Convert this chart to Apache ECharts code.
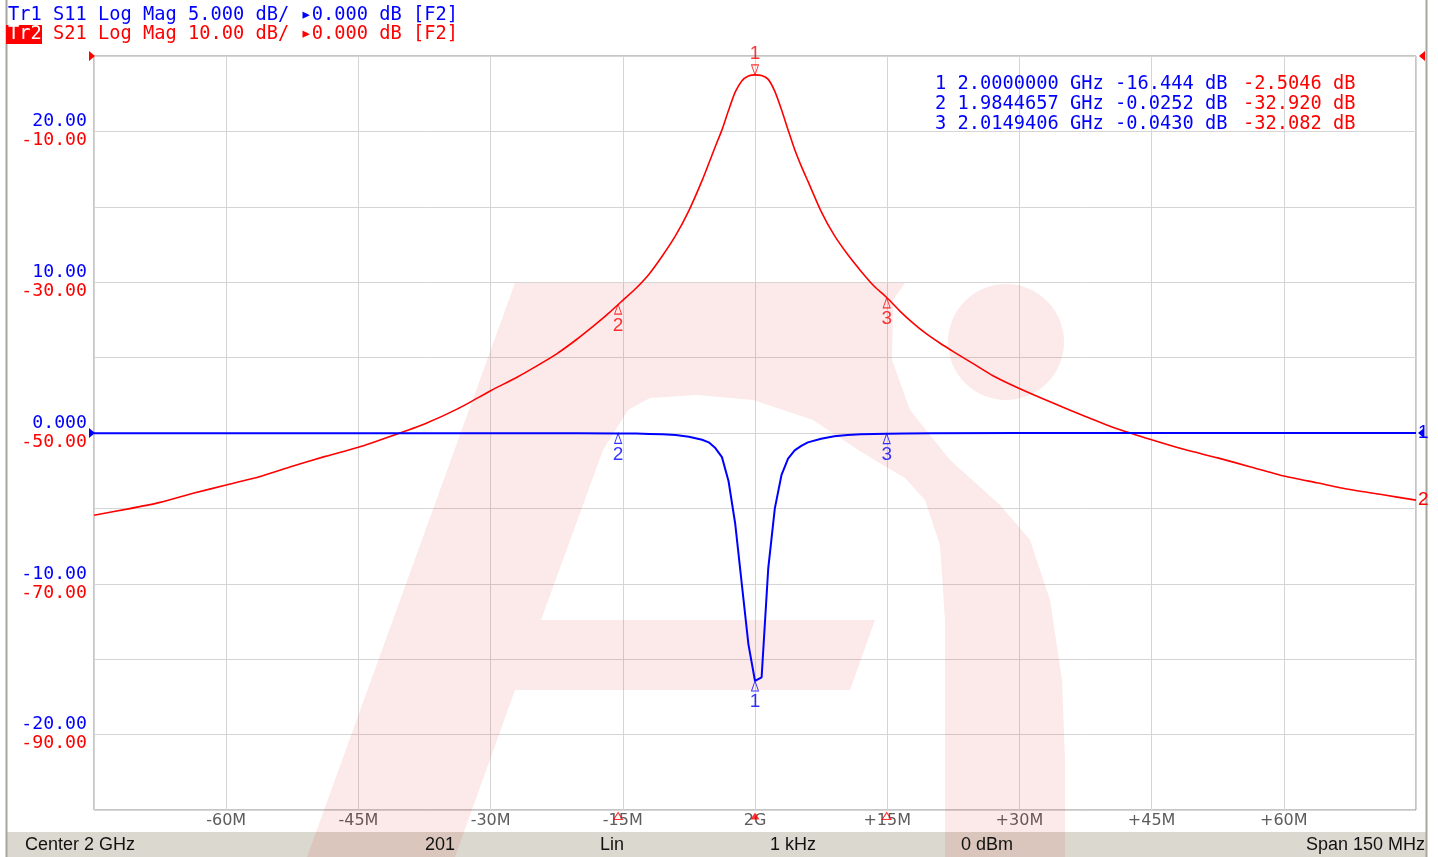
<!DOCTYPE html>
<html><head><meta charset="utf-8">
<script src="https://cdn.jsdelivr.net/npm/echarts@6/dist/echarts.min.js"></script>
<style>html,body{margin:0;padding:0;background:#fff}#c{width:1438px;height:857px}</style>
</head><body><div id="c"></div>
<script>
// Frequency offsets from 2 GHz centre, in MHz
const s21Freq = [-75,-71.25,-67.5,-63.75,-60,-56.25,-52.5,-48.75,-45,-41.25,-37.5,-33.75,-30,-27,-24.75,-22.5,-20.25,-18,-16.5,-15,-13.5,-12,-10.5,-9,-7.5,-6,-4.5,-3.75,-3,-2.25,-1.5,-0.75,0,0.75,1.5,2.25,3,3.75,4.5,5.25,6,7.5,9,10.5,12,13.5,15,16.5,18,19.5,21,22.5,24.75,27,30,33.75,37.5,41.25,45,48.75,52.5,56.25,60,63.75,67.5,71.25,75];
const s21Val = [-60.9,-60.1,-59.2,-58.0,-56.9,-55.8,-54.4,-53.1,-51.9,-50.4,-48.8,-46.8,-44.4,-42.6,-41.1,-39.5,-37.6,-35.5,-34.0,-32.4,-30.8,-28.9,-26.5,-23.8,-20.5,-16.5,-12.0,-9.8,-7.2,-4.8,-3.3,-2.65,-2.50,-2.6,-3.1,-4.7,-7.1,-9.8,-12.4,-14.6,-16.6,-20.6,-23.8,-26.3,-28.5,-30.5,-32.1,-33.9,-35.5,-36.9,-38.1,-39.2,-40.8,-42.4,-44.1,-46.0,-47.8,-49.5,-50.9,-52.2,-53.3,-54.5,-55.7,-56.6,-57.5,-58.2,-58.9];
const s11Freq = [-75,-60,-45,-30,-20,-15.5,-13.5,-12,-10.5,-9,-7.5,-6,-5.25,-4.5,-3.75,-3,-2.25,-1.5,-0.75,0,0.75,1.5,2.25,3,3.75,4.5,5.25,6,7.5,9,10.5,12,13.5,15,17,20,30,45,60,75];
const s11Val = [-0.01,-0.01,-0.01,-0.02,-0.02,-0.025,-0.04,-0.06,-0.09,-0.14,-0.25,-0.45,-0.62,-1.0,-1.6,-3.2,-6.0,-10.0,-14.0,-16.444,-16.2,-9.0,-5.0,-2.8,-1.7,-1.15,-0.85,-0.62,-0.38,-0.22,-0.13,-0.08,-0.06,-0.043,-0.03,-0.01,0,0,0,0];

const markerNames = ['1','2','3'];
const markerFreq = [0, -15.5343, 14.9406];
const markerFreqText = ['2.0000000','1.9844657','2.0149406'];
const markerS11 = [-16.444, -0.0252, -0.0430];
const markerS21 = [-2.5046, -32.920, -32.082];

const xTickLabels = ['', '-60M', '-45M', '-30M', '-15M', '2G', '+15M', '+30M', '+45M', '+60M', ''];
const s11TickLabels = ['', '-20.00', '', '-10.00', '', '0.000', '', '10.00', '', '20.00', ''];
const s21TickLabels = ['', '-90.00', '', '-70.00', '', '-50.00', '', '-30.00', '', '-10.00', ''];

const headerLine1 = 'Tr1 S11 Log Mag 5.000 dB/ \u25B80.000 dB [F2]';
const headerLine2 = 'Tr2 S21 Log Mag 10.00 dB/ \u25B80.000 dB [F2]';
const statusTexts = ['Center 2 GHz', '201', 'Lin', '1 kHz', '0 dBm', 'Span 150 MHz'];

const BLUE = '#0000ff', RED = '#ff0000';
const MONO = '"DejaVu Sans Mono", monospace';
const SANS = '"Liberation Sans", "DejaVu Sans", sans-serif';
const HFS = 18.7;

const zip = (a, b) => a.map((v, i) => [v, b[i]]);
const fmt = v => (Math.abs(v) >= 10 ? v.toFixed(3) : v.toFixed(4));

const chart = echarts.init(document.getElementById('c'), null, {renderer: 'canvas'});

const markerScatter = (vals, axis, color, idx, active) => ({
  type: 'scatter', yAxisIndex: axis, clip: false, z: 5,
  data: idx.map(i => ({name: markerNames[i], value: [markerFreq[i], vals[i]]})),
  symbol: 'triangle', symbolSize: [7, 10],
  symbolRotate: active ? 180 : 0,
  symbolOffset: active ? [0, -5] : [0, 5],
  itemStyle: {color: 'rgba(255,255,255,0)', borderColor: color, borderWidth: 1},
  label: {show: true, position: active ? 'top' : 'bottom', distance: 1, formatter: p => p.name,
          color: color, fontFamily: SANS, fontSize: 19},
  emphasis: {disabled: true}, silent: true
});

// watermark (decoration)
const wm = [[307,857],[515,283],[905,283],[893,300],[892,360],[910,410],[950,460],[1000,505],[1030,540],[1050,600],[1062,680],[1065,760],[1065,857],[945,857],[945,620],[940,545],[925,500],[905,478],[863,453],[813,420],[753,400],[697,395],[650,398],[628,410],[603,450],[541,620],[875,620],[850,690],[515,690],[455,857]];

const statusX = [25, 440, 612, 793, 987, 1425];
const statusAlign = ['left','center','center','center','center','right'];

const graphics = [
  {type: 'rect', z: 0, shape: {x: 6, y: 832, width: 1421, height: 25}, style: {fill: '#dbd8cf'}},
  {type: 'polygon', z: 1, silent: true, shape: {points: wm}, style: {fill: 'rgba(230,40,40,0.10)'}},
  {type: 'circle', z: 1, silent: true, shape: {cx: 1006, cy: 342, r: 58}, style: {fill: 'rgba(230,40,40,0.10)'}},
  {type: 'line', z: 3, shape: {x1: 6.5, y1: 0, x2: 6.5, y2: 857}, style: {stroke: '#a8a69e', lineWidth: 2}},
  {type: 'line', z: 3, shape: {x1: 1426.5, y1: 0, x2: 1426.5, y2: 857}, style: {stroke: '#a8a69e', lineWidth: 2}},
  {type: 'text', z: 4, style: {text: headerLine1, x: 8, y: 15, fill: BLUE, fontFamily: MONO, fontSize: HFS, verticalAlign: 'middle'}},
  {type: 'text', z: 4, style: {text: headerLine2, x: 8, y: 34, fill: RED, fontFamily: MONO, fontSize: HFS, verticalAlign: 'middle'}},
  {type: 'rect', z: 5, shape: {x: 6, y: 25, width: 36, height: 19}, style: {fill: RED}},
  {type: 'text', z: 6, style: {text: 'Tr2', x: 8, y: 34, fill: '#fff', fontFamily: MONO, fontSize: HFS, verticalAlign: 'middle'}}
];
markerNames.forEach((n, i) => {
  graphics.push({type: 'text', z: 4, style: {text: n + ' ' + markerFreqText[i] + ' GHz ' + fmt(markerS11[i]) + ' dB', x: 935, y: 84 + 20 * i, fill: BLUE, fontFamily: MONO, fontSize: HFS, verticalAlign: 'middle'}});
  graphics.push({type: 'text', z: 4, style: {text: fmt(markerS21[i]) + ' dB', x: 1243, y: 84 + 20 * i, fill: RED, fontFamily: MONO, fontSize: HFS, verticalAlign: 'middle'}});
});
statusTexts.forEach((t, i) => {
  graphics.push({type: 'text', z: 4, style: {text: t, x: statusX[i], y: 845, fill: '#111', fontFamily: SANS, fontSize: 18, align: statusAlign[i], verticalAlign: 'middle'}});
});

chart.setOption({
  animation: false,
  backgroundColor: '#fff',
  grid: {left: 94, top: 56, width: 1322, height: 754, show: true, borderColor: '#8c8c8c', borderWidth: 1, backgroundColor: 'transparent', containLabel: false},
  xAxis: {
    type: 'value', min: -75, max: 75, interval: 15,
    axisLine: {show: false}, axisTick: {show: false},
    splitLine: {show: true, lineStyle: {color: '#d5d5d5', width: 1}},
    axisLabel: {margin: 3, color: '#5c5c5c', fontFamily: '"DejaVu Sans", sans-serif', fontSize: 16, showMinLabel: true, showMaxLabel: true,
                formatter: (v, i) => xTickLabels[i]}
  },
  yAxis: [
    {type: 'value', min: -25, max: 25, interval: 5, position: 'left',
     axisLine: {show: false}, axisTick: {show: false},
     splitLine: {show: true, lineStyle: {color: '#d5d5d5', width: 1}},
     axisLabel: {margin: 7, color: BLUE, fontFamily: MONO, fontSize: 18.2, verticalAlign: 'bottom', lineHeight: 18, padding: [0,0,1,0],
                 showMinLabel: true, showMaxLabel: true, formatter: (v, i) => s11TickLabels[i]}},
    {type: 'value', min: -100, max: 0, interval: 10, position: 'left', offset: 0,
     axisLine: {show: false}, axisTick: {show: false}, splitLine: {show: false},
     axisLabel: {margin: 7, color: RED, fontFamily: MONO, fontSize: 18.2, verticalAlign: 'top', lineHeight: 18, padding: [0,0,0,0],
                 showMinLabel: true, showMaxLabel: true, formatter: (v, i) => s21TickLabels[i]}}
  ],
  graphic: graphics,
  series: [
    {type: 'line', name: 'S21', yAxisIndex: 1, data: zip(s21Freq, s21Val), showSymbol: false, symbol: 'none', z: 3,
     smooth: 0.2,
     lineStyle: {color: RED, width: 1.6}, itemStyle: {color: RED},
     endLabel: {show: true, formatter: '2', color: RED, fontFamily: SANS, fontSize: 19, distance: 2},
     emphasis: {disabled: true}, silent: true},
    {type: 'line', name: 'S11', yAxisIndex: 0, data: zip(s11Freq, s11Val), showSymbol: false, symbol: 'none', z: 3,
     lineStyle: {color: BLUE, width: 2}, itemStyle: {color: BLUE},
     endLabel: {show: true, formatter: '1', color: BLUE, fontFamily: SANS, fontSize: 19, distance: 2},
     emphasis: {disabled: true}, silent: true},
    markerScatter(markerS21, 1, RED, [0], true),
    markerScatter(markerS21, 1, RED, [1, 2], false),
    markerScatter(markerS11, 0, BLUE, [0, 1, 2], false),
    {type: 'scatter', yAxisIndex: 1, clip: false, z: 5, silent: true,
     data: markerFreq.map((f, i) => ({value: [f, -100], itemStyle: i === 0 ? {color: RED} : {color: 'rgba(255,255,255,0)', borderColor: RED, borderWidth: 1}})),
     symbol: 'triangle', symbolSize: [9, 7], symbolOffset: [0, 6]}
  ]
});

// reference-level pointers at the grid edges
const yRefBlue = chart.convertToPixel({yAxisIndex: 0}, 0);
const yRefRed = chart.convertToPixel({yAxisIndex: 1}, 0);
const xL = chart.convertToPixel({xAxisIndex: 0}, -75);
const xR = chart.convertToPixel({xAxisIndex: 0}, 75);
const ptrR = (x, y, c) => ({type: 'polygon', z: 6, shape: {points: [[x - 5, y - 5], [x + 1, y], [x - 5, y + 5]]}, style: {fill: c}});
const ptrL = (x, y, c) => ({type: 'polygon', z: 6, shape: {points: [[x + 5, y - 5], [x - 1, y], [x + 5, y + 5]]}, style: {fill: c}});
chart.setOption({graphic: graphics.concat([
  ptrR(xL, yRefBlue, BLUE), ptrR(xL, yRefRed, RED), ptrL(xR + 4, yRefRed, RED), ptrL(xR + 3, yRefBlue, BLUE)
])});
</script></body></html>
